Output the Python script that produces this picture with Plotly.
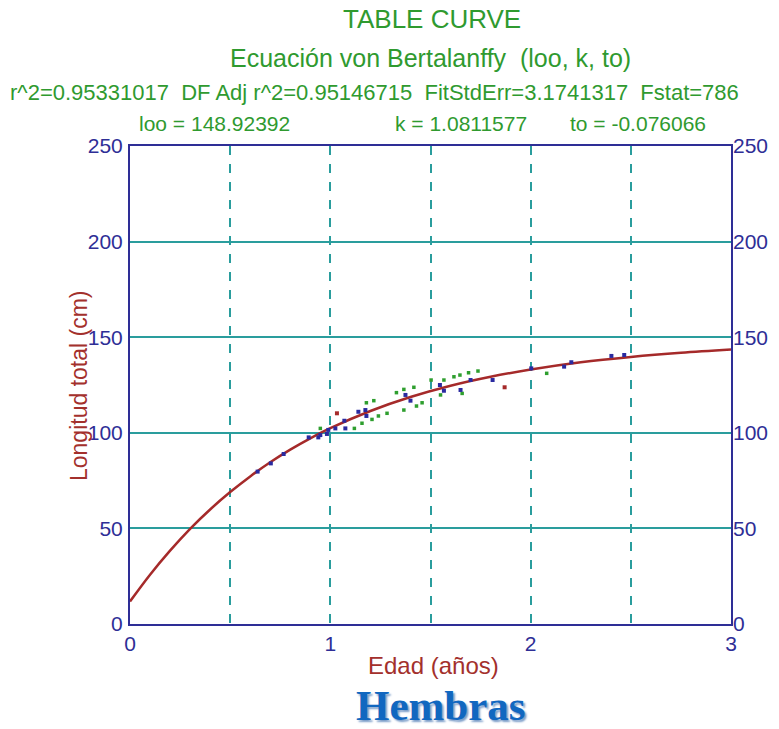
import plotly.graph_objects as go

# Fitted von Bertalanffy curve
curve_t = [0.0, 0.1, 0.2, 0.3, 0.4, 0.5, 0.6, 0.7, 0.8, 0.9, 1.0, 1.2, 1.4, 1.6, 1.8, 2.0, 2.25, 2.5, 2.75, 3.0]
curve_L = [11.8, 25.8, 38.4, 49.8, 59.9, 69.0, 77.2, 84.6, 91.2, 97.1, 102.4, 111.4, 118.7, 124.6, 129.3, 133.1, 136.9, 139.7, 141.9, 143.6]

# Observed points
blue_t = [0.637, 0.703, 0.767, 0.892, 0.94, 0.95, 0.983, 0.99, 1.025, 1.07, 1.075, 1.14, 1.175, 1.18,
          1.375, 1.40, 1.547, 1.567, 1.65, 1.70, 1.81, 2.003, 2.167, 2.203, 2.403, 2.467]
blue_L = [79.7, 84.0, 88.9, 97.6, 97.6, 98.8, 99.4, 101.5, 102.3, 106.3, 102.3, 111.0, 111.9, 108.8,
          119.8, 116.8, 125.0, 122.0, 122.4, 127.6, 127.6, 133.7, 134.6, 136.9, 140.2, 140.7]

green_t = [0.95, 1.12, 1.158, 1.208, 1.24, 1.283, 1.18, 1.217, 1.33, 1.367, 1.417, 1.367, 1.43, 1.458,
           1.503, 1.567, 1.55, 1.617, 1.647, 1.69, 1.737, 1.658, 2.08]
green_L = [102.3, 102.3, 105.0, 107.0, 108.8, 110.2, 115.7, 116.8, 121.0, 122.7, 123.8, 111.9, 114.0, 115.7,
           127.6, 127.6, 119.8, 129.3, 130.2, 131.4, 132.3, 120.6, 131.1]

red_t = [1.033, 1.87]
red_L = [110.2, 123.8]

x_tickvals = [0, 0.5, 1, 1.5, 2, 2.5, 3]
x_ticktext = ["0", "", "1", "", "2", "", "3"]
y_tickvals = [0, 50, 100, 150, 200, 250]

title1 = "TABLE CURVE"
title2 = "Ecuación von Bertalanffy  (loo, k, to)"
stats1 = "r^2=0.95331017  DF Adj r^2=0.95146715  FitStdErr=3.1741317  Fstat=786"
params = ["loo = 148.92392", "k = 1.0811577", "to = -0.076066"]
x_title = "Edad (años)"
y_title = "Longitud total (cm)"
caption = "Hembras"

GREEN = "#2f9a2f"
NAVY = "#2e2e96"
TEAL = "#2a9d9d"
DRED = "#a3302c"
FONT = "Liberation Sans, Arial, sans-serif"

fig = go.Figure()
fig.add_trace(go.Scatter(x=curve_t, y=curve_L, mode="lines", line=dict(color="#a52a2a", width=2.5, shape="spline"),
                         hoverinfo="skip"))
fig.add_trace(go.Scatter(x=green_t, y=green_L, mode="markers",
                         marker=dict(symbol="square", size=3.5, color="#2e9e2e")))
fig.add_trace(go.Scatter(x=blue_t, y=blue_L, mode="markers",
                         marker=dict(symbol="square", size=4, color="#2a2aa0")))
fig.add_trace(go.Scatter(x=red_t, y=red_L, mode="markers",
                         marker=dict(symbol="square", size=4, color="#a52a2a")))
fig.add_trace(go.Scatter(x=[None], y=[None], yaxis="y2", showlegend=False))

W, H = 779, 729
L_, R_, T_, B_ = 130, 48, 146, 105
pw = W - L_ - R_
ph = H - T_ - B_

def px(xpix):
    return (xpix - L_) / pw

def py(ypix):
    return (H - B_ - ypix) / ph

ann = []
ann.append(dict(text=title1, x=px(432), y=py(19), font=dict(size=26, color=GREEN, family=FONT)))
ann.append(dict(text=title2, x=px(430), y=py(58), font=dict(size=25, color=GREEN, family=FONT)))
ann.append(dict(text=stats1, x=px(8), y=py(92), xanchor="left", font=dict(size=22, color=GREEN, family=FONT)))
ann.append(dict(text=params[0], x=px(137), y=py(123), xanchor="left", font=dict(size=21, color=GREEN, family=FONT)))
ann.append(dict(text=params[1], x=px(393), y=py(123), xanchor="left", font=dict(size=21, color=GREEN, family=FONT)))
ann.append(dict(text=params[2], x=px(568), y=py(123), xanchor="left", font=dict(size=21, color=GREEN, family=FONT)))
ann.append(dict(text=x_title, x=px(433), y=py(665), font=dict(size=24, color=DRED, family=FONT)))
ann.append(dict(text=y_title, x=px(79), y=py(386), textangle=-90, font=dict(size=23, color=DRED, family=FONT)))
ann.append(dict(text="<b>" + caption + "</b>", x=px(441), y=py(705), yanchor="middle",
                font=dict(size=43, color="#1167c0", family="Liberation Serif, Times New Roman, serif",
                          shadow="2px 2px 2px #7a9cc8")))
for a in ann:
    a.update(xref="paper", yref="paper", showarrow=False, yanchor=a.get("yanchor", "middle"),
             xanchor=a.get("xanchor", "center"))

fig.update_layout(
    width=W, height=H,
    margin=dict(l=L_, r=R_, t=T_, b=B_),
    paper_bgcolor="white", plot_bgcolor="white",
    showlegend=False,
    annotations=ann,
    xaxis=dict(range=[0, 3], tickvals=x_tickvals, ticktext=x_ticktext,
               showgrid=True, gridcolor=TEAL, gridwidth=2, griddash="dash",
               showline=True, linecolor=NAVY, linewidth=2, mirror=True,
               ticks="", zeroline=False,
               tickfont=dict(size=21, color=NAVY, family=FONT)),
    yaxis=dict(range=[0, 250], tickvals=y_tickvals,
               showgrid=True, gridcolor=TEAL, gridwidth=2,
               showline=True, linecolor=NAVY, linewidth=2, mirror=True,
               ticks="", zeroline=False, ticklabelstandoff=1,
               tickfont=dict(size=21, color=NAVY, family=FONT)),
    yaxis2=dict(range=[0, 250], tickvals=y_tickvals, overlaying="y", side="right",
                showgrid=False, zeroline=False, showline=False, ticks="",
                ticklabelstandoff=1,
                tickfont=dict(size=21, color=NAVY, family=FONT)),
)

fig.write_html("out.html")
